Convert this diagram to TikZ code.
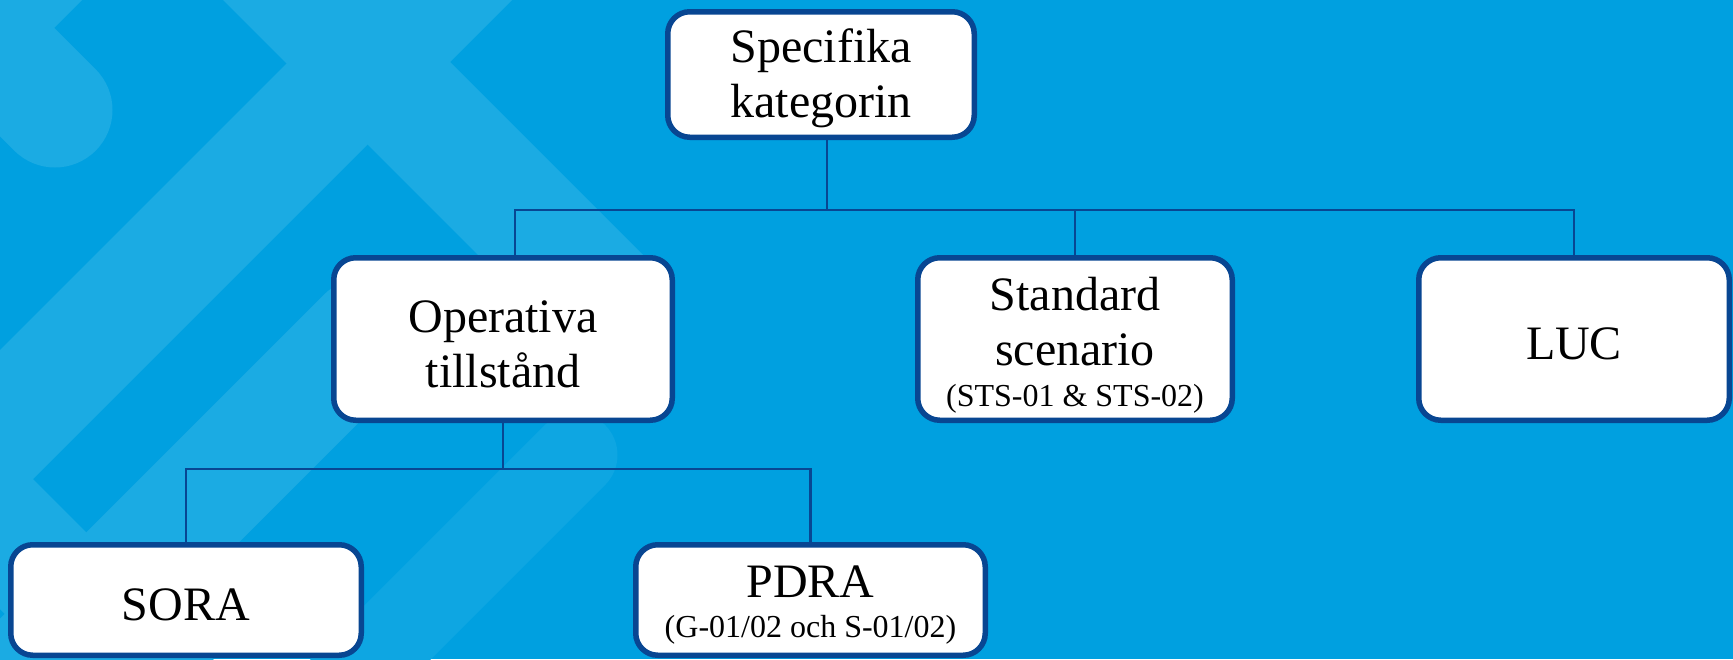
\documentclass[tikz,border=0pt]{standalone}
\usepackage{fontspec}
\setmainfont{Liberation Serif}
\definecolor{bgblue}{RGB}{0,160,224}
\definecolor{lightblue}{RGB}{27,171,227}
\definecolor{faintblue}{RGB}{14,166,226}
\definecolor{darkblue}{RGB}{8,70,146}
\tikzset{
  box/.style={draw=darkblue, line width=5.5pt, fill=white, rounded corners=22pt,
    inner sep=0pt, align=center, text=black,
    font=\fontsize{48}{55}\selectfont},
  conn/.style={draw=darkblue, line width=2.5pt},
  band/.style={draw=lightblue, line width=115pt, line cap=round}
}
\newcommand{\smalltxt}[1]{{\fontsize{32}{36}\selectfont #1}}
\newcommand{\topstrut}[1]{\rule{0pt}{#1pt}}
\begin{document}
\begin{tikzpicture}[x=1pt,y=-1pt]
\fill[bgblue] (0,0) rectangle (1733,659);
\useasboundingbox (0,0) rectangle (1733,659);
\begin{scope}
  \clip (0,0) rectangle (1733,659);
  \draw[draw=faintblue, line width=85pt, line cap=round] (575,455) -- (200,830);
  \fill[lightblue] (0,0) -- (82,0) -- (0,82) -- cycle;
  \draw[band] (55,110) -- (-150,-95);
  \fill[lightblue] (350,0) -- (512,0) -- (0,512) -- (0,350) -- cycle;
  \fill[lightblue] (223,0) -- (388,0) -- (668,280) -- (503,280) -- cycle;
  \draw[band] (365,335) -- (-100,800);
  \fill[lightblue] (0,446) -- (0,609) -- (250,859) -- (250,696) -- cycle;
\end{scope}

\node[box, minimum width=306.5pt, minimum height=125.5pt] (spec) at (821,74.5) {\topstrut{42}Specifika\\kategorin};
\node[box, minimum width=338.5pt, minimum height=162.5pt] (op) at (503,339) {\topstrut{42}Operativa\\tillstånd};
\node[box, minimum width=314.5pt, minimum height=162.5pt] (std) at (1075,339) {\topstrut{46}Standard\\scenario\\[-14pt]\smalltxt{(STS-01 \& STS-02)}};
\node[box, minimum width=310.5pt, minimum height=162.5pt] (luc) at (1574,339) {\topstrut{42}LUC};
\node[box, minimum width=350.5pt, minimum height=110.5pt] (sora) at (186,600) {\topstrut{42}SORA};
\node[box, minimum width=349.5pt, minimum height=110.5pt] (pdra) at (810.5,600) {\topstrut{42}PDRA\\[-15pt]\smalltxt{(G-01/02 och S-01/02)}};

\coordinate (j1) at (827,210);
\coordinate (j2) at (503,469);
\draw[conn] ([xshift=6pt]spec.south) -- (j1);
\draw[conn] ([xshift=12pt]op.north) |- (j1) -| (luc.north);
\draw[conn] (j1) -| (std.north);
\draw[conn] (op.south) -- (j2);
\draw[conn] (sora.north) |- (j2) -| (pdra.north);
\end{tikzpicture}
\end{document}
